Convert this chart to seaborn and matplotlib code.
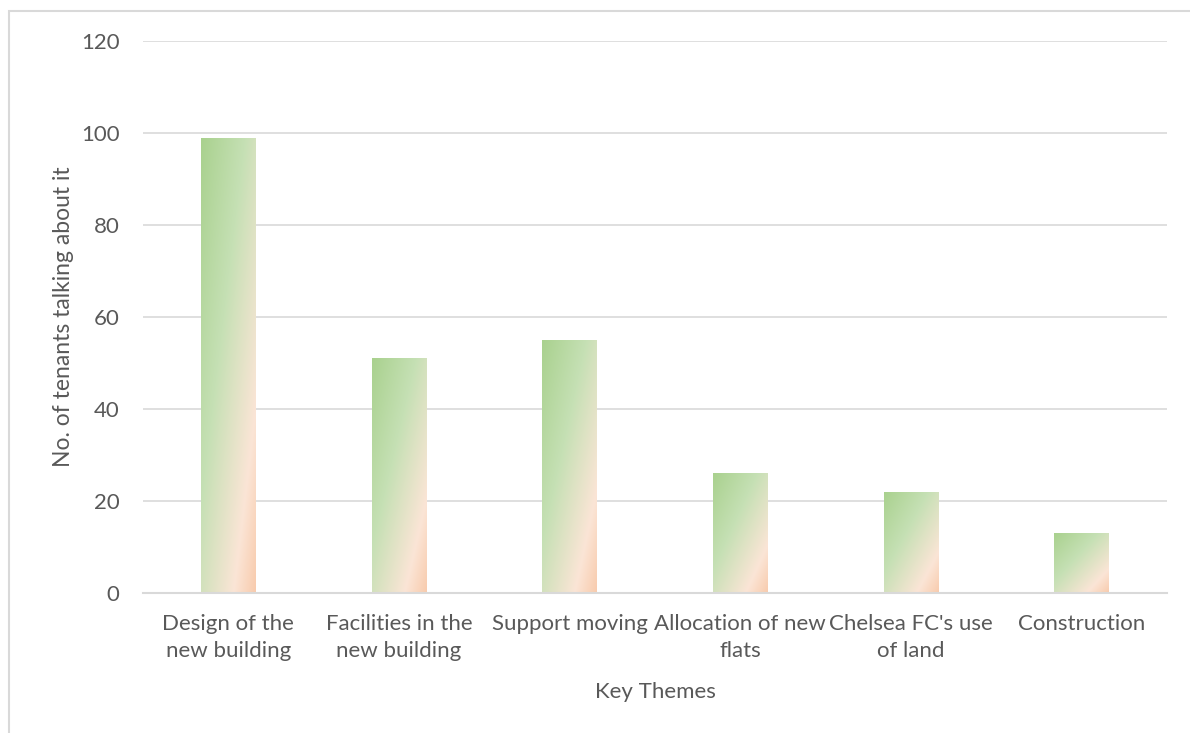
import numpy as np
import pandas as pd
import matplotlib
matplotlib.use("Agg")
import matplotlib.pyplot as plt
from matplotlib.colors import LinearSegmentedColormap
from matplotlib.patches import Rectangle
import seaborn as sns

categories = ["Design of the\nnew building", "Facilities in the\nnew building", "Support moving",
              "Allocation of new\nflats", "Chelsea FC's use\nof land", "Construction"]
values = [99, 51, 55, 26, 22, 13]
yticks = [0, 20, 40, 60, 80, 100, 120]

sns.set_theme(style="white")
plt.rcParams['font.family'] = ['Lato', 'DejaVu Sans']
TXT = "#595959"
GRID = "#d9d9d9"
FS = 16

fig = plt.figure(figsize=(11.9, 7.33), dpi=100)
ax = fig.add_axes([143/1190, 1-593/733, (1167-143)/1190, (593-41)/733])

df = pd.DataFrame({"theme": categories, "count": values})
sns.barplot(data=df, x="theme", y="count", ax=ax, width=0.32, color="#a9d18e", saturation=1)

cmap = LinearSegmentedColormap.from_list(
    "g", [(0, "#a9d18e"), (0.4, "#c5e0b4"), (0.8, "#fbe5d6"), (1.0, "#f8cbad")])
n = 200
u = np.linspace(0, 1, n)
U, V = np.meshgrid(u, u)  # V: 0 top -> 1 bottom (origin upper)
grad = (U + V) / 2

for p in list(ax.patches):
    x0, y0 = p.get_x(), p.get_y()
    w, h = p.get_width(), p.get_height()
    p.set_facecolor("none")
    p.set_edgecolor("none")
    im = ax.imshow(grad, cmap=cmap, vmin=0, vmax=1, extent=(x0, x0 + w, y0, y0 + h),
                   origin="upper", aspect="auto", interpolation="bilinear", zorder=2)
    im.set_clip_path(p)

ax.set_xlim(-0.5, len(categories) - 0.5)
ax.set_ylim(0, 120)
ax.set_aspect("auto")
ax.set_yticks(yticks)
ax.set_yticklabels([str(t) for t in yticks])
ax.set_xticks(range(len(categories)))
ax.set_xticklabels(categories, linespacing=1.45)
ax.grid(axis="y", color=GRID, linewidth=1.2, zorder=0)
ax.set_axisbelow(True)
for s in ["left", "right", "top"]:
    ax.spines[s].set_visible(False)
ax.spines["bottom"].set_color(GRID)
ax.spines["bottom"].set_linewidth(1.5)
ax.tick_params(axis="both", length=0, labelsize=FS, labelcolor=TXT)
ax.tick_params(axis="y", pad=17)
ax.tick_params(axis="x", pad=15)
ax.set_xlabel("Key Themes", fontsize=FS, color=TXT, labelpad=15)
ax.set_ylabel("No. of tenants talking about it", fontsize=16.5, color=TXT, labelpad=5)

fig.patches.append(Rectangle((9/1190, -0.05), 1.2, (733-11)/733 + 0.05, transform=fig.transFigure,
                             fill=False, edgecolor=GRID, linewidth=1.5, zorder=0))

fig.savefig("out.png", dpi=100)
